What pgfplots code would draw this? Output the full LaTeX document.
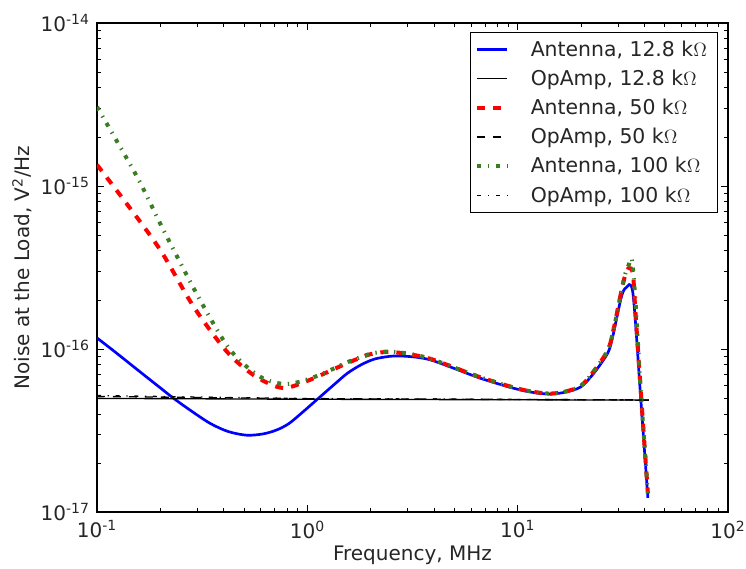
\documentclass[border=0pt]{standalone}
\usepackage{fontspec}
\setmainfont{DejaVu Sans}
\usepackage{pgfplots}
\pgfplotsset{compat=1.18}
\definecolor{mgreen}{RGB}{58,125,34}
\begin{document}
\begin{tikzpicture}
\useasboundingbox (-72.75pt,-42pt) rectangle (486.75pt,384pt);
\begin{axis}[
  scale only axis,
  width=473.25pt, height=366.75pt,
  xmode=log, ymode=log,
  xmin=0.1, xmax=100, ymin=1e-17, ymax=1e-14,
  axis line style={line width=0.9pt, black},
  tick style={black, line width=0.6pt},
  major tick length=5pt, minor tick length=3pt,
  tick align=inside,
  xtick={0.1,1,10,100},
  xticklabels={10\textsuperscript{-1},10\textsuperscript{0},10\textsuperscript{1},10\textsuperscript{2}},
  ytick={1e-17,1e-16,1e-15,1e-14},
  yticklabels={10\textsuperscript{-17},10\textsuperscript{-16},10\textsuperscript{-15},10\textsuperscript{-14}},
  ticklabel style={font=\fontsize{15}{17}\selectfont, text=black!85},
  xticklabel style={yshift=-3pt},
  yticklabel style={xshift=-2pt},
  xlabel={Frequency, MHz},
  ylabel={Noise at the Load, V\textsuperscript{2}/Hz},
  label style={font=\fontsize{15}{17}\selectfont, text=black!85},
  xlabel style={at={(axis description cs:0.5,-0.0982)}, anchor=base},
  ylabel style={at={(axis description cs:-0.1189,0.5)}, anchor=center},
  legend cell align=left,
  legend image code/.code={\draw[#1] (0pt,0pt) -- (22.5pt,0pt);},
  legend style={at={(axis description cs:1,1)}, anchor=north east, xshift=-7.5pt, yshift=-6.75pt,
    draw=black, line width=0.75pt, font=\fontsize{15.3}{17}\selectfont, text=black!85,
    inner xsep=4pt, inner ysep=4pt, row sep=4.8pt, column sep=12pt,
    nodes={inner xsep=4pt}},
]
% Antenna 12.8k
\addplot[blue, line width=2pt, smooth, tension=0.5] coordinates {
(0.1,1.17e-16) (0.12,9.75e-17) (0.138,8.45e-17) (0.17,6.82e-17) (0.2,5.78e-17) (0.231,4.99e-17)
(0.28,4.18e-17) (0.345,3.5e-17) (0.42,3.12e-17) (0.516,2.96e-17) (0.62,3.02e-17) (0.72,3.2e-17) (0.82,3.5e-17)
(0.95,4.1e-17) (1.15,5.09e-17) (1.35,6.1e-17) (1.55,7.1e-17) (1.8,8.0e-17) (2.1,8.7e-17) (2.57,9.06e-17) (3.2,8.95e-17)
(3.86,8.57e-17) (5.0,7.6e-17) (6.67,6.61e-17) (9.6,5.74e-17) (12,5.4e-17) (14.4,5.3e-17) (17,5.45e-17) (20,5.87e-17)
(23,7.1e-17) (26.8,9.44e-17) (28.3,1.19e-16) (29.9,1.66e-16) (31.3,2.14e-16) (32.7,2.37e-16)
(35.3,2.21e-16) (38.5,4.93e-17) (41.6,1.22e-17)};
\addlegendentry{Antenna, 12.8 k$\Omega$}
% OpAmp 12.8k
\addplot[black, line width=1pt] coordinates {(0.1,4.98e-17) (1,4.92e-17) (42,4.86e-17)};
\addlegendentry{OpAmp, 12.8 k$\Omega$}
% Antenna 50k
\addplot[red, line width=3pt, dash pattern=on 6pt off 6pt, smooth, tension=0.5] coordinates {
(0.1,1.35e-15) (0.138,7.83e-16) (0.2,4.05e-16) (0.288,1.82e-16) (0.415,9.62e-17) (0.555,6.92e-17)
(0.717,5.87e-17) (0.83,5.85e-17) (1.07,6.61e-17) (1.55,8.2e-17) (2.0,9.3e-17) (2.48,9.6e-17)
(3.2,9.2e-17) (3.86,8.7e-17) (5.0,7.7e-17) (6.67,6.7e-17) (9.6,5.8e-17) (12,5.45e-17) (14.4,5.33e-17) (17,5.5e-17) (20,5.95e-17)
(23,7.3e-17) (26.8,9.8e-17) (28.3,1.25e-16) (29.9,1.75e-16) (31.3,2.35e-16) (32.5,2.85e-16)
(33.8,3.14e-16) (35.3,2.9e-16) (36.3,1.7e-16) (38.5,5.5e-17) (41.6,1.3e-17)};
\addlegendentry{Antenna, 50 k$\Omega$}
% OpAmp 50k
\addplot[black, line width=1pt, dash pattern=on 6pt off 6pt] coordinates {(0.1,5.12e-17) (1,4.96e-17) (42,4.87e-17)};
\addlegendentry{OpAmp, 50 k$\Omega$}
% Antenna 100k
\addplot[mgreen, line width=3pt, dash pattern=on 3pt off 5pt on 1pt off 5pt, smooth, tension=0.5] coordinates {
(0.1,3.06e-15) (0.155,1.14e-15) (0.207,5.37e-16) (0.309,2.0e-16) (0.43,9.87e-17) (0.597,6.76e-17)
(0.8,6.1e-17) (1.11,6.83e-17) (1.55,8.3e-17) (2.0,9.35e-17) (2.48,9.65e-17)
(3.2,9.25e-17) (3.86,8.7e-17) (5.0,7.7e-17) (6.67,6.7e-17) (9.6,5.8e-17) (12,5.45e-17) (14.4,5.33e-17) (17,5.5e-17) (20,5.95e-17)
(23,7.3e-17) (26.8,9.8e-17) (28.3,1.25e-16) (29.9,1.75e-16) (31.3,2.35e-16) (32.5,2.9e-16)
(33.8,3.3e-16) (34.9,3.56e-16) (36.0,2.3e-16) (36.8,1.5e-16) (38.5,5.5e-17) (41.6,1.3e-17)};
\addlegendentry{Antenna, 100 k$\Omega$}
% OpAmp 100k
\addplot[black, line width=1pt, dash pattern=on 3pt off 5pt on 1pt off 5pt] coordinates {(0.1,5.18e-17) (1,4.97e-17) (42,4.87e-17)};
\addlegendentry{OpAmp, 100 k$\Omega$}
\end{axis}
\end{tikzpicture}
\end{document}
